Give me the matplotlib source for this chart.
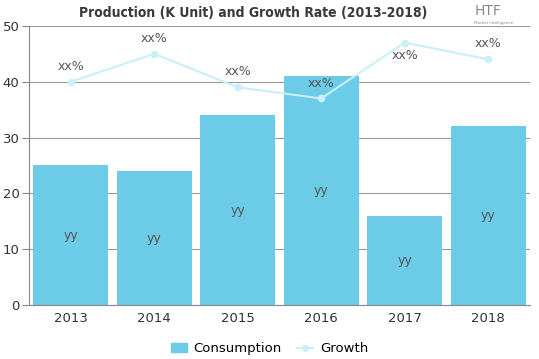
import matplotlib.pyplot as plt
from matplotlib.lines import Line2D
from matplotlib.patches import Patch

years = ["2013", "2014", "2015", "2016", "2017", "2018"]
consumption = [25, 24, 34, 41, 16, 32]
growth = [40, 45, 39, 37, 47, 44]
bar_labels = ["yy"] * 6
line_labels = ["xx%"] * 6
label_above = [True, True, True, True, False, True]

bar_color = "#6ccbe6"
line_color = "#c8f0f6"

fig = plt.figure(figsize=(5.39, 3.59), dpi=100)
ax = fig.add_axes([0.054, 0.150, 0.929, 0.778])

x = list(range(len(years)))
ax.bar(x, consumption, width=0.9, color=bar_color, zorder=2)
ax.plot(x, growth, color=line_color, lw=1.5, marker="o", ms=4.5, zorder=3)

for xi, v, t in zip(x, consumption, bar_labels):
    ax.text(xi, v / 2, t, ha="center", va="center", fontsize=9, color="#555555", zorder=4)
for xi, v, t, up in zip(x, growth, line_labels, label_above):
    if up:
        ax.text(xi, v + 1.6, t, ha="center", va="bottom", fontsize=9, color="#555555", zorder=4)
    else:
        ax.text(xi, v - 1.2, t, ha="center", va="top", fontsize=9, color="#555555", zorder=4)

ax.set_xlim(-0.5, 5.5)
ax.set_ylim(0, 50)
ax.set_yticks(range(0, 51, 10))
ax.set_xticks(x)
ax.set_xticklabels(years)
ax.tick_params(axis="y", length=5, color="#888888", labelsize=9.5, labelcolor="#333333", pad=2)
ax.tick_params(axis="x", length=0, labelsize=9.5, labelcolor="#333333", pad=5)
ax.grid(axis="y", color="#999999", lw=0.8, zorder=0)
for s in ["top", "right"]:
    ax.spines[s].set_visible(False)
for s in ["left", "bottom"]:
    ax.spines[s].set_color("#888888")

fig.text(0.47, 0.965, "Production (K Unit) and Growth Rate (2013-2018)", ha="center", va="center",
         fontsize=10, fontweight="bold", color="#3a3a3a", family=["Liberation Sans Narrow", "DejaVu Sans"],
         fontstretch="condensed")
fig.text(0.905, 0.968, "HTF", ha="center", va="center", fontsize=10, color="#888888")
fig.text(0.915, 0.935, "Market Intelligence", ha="center", va="center", fontsize=3, color="#888888")

handles = [Patch(color=bar_color, label="Consumption"),
           Line2D([0], [0], color=line_color, marker="o", ms=4, lw=1.5, label="Growth")]
fig.legend(handles=handles, loc="center", bbox_to_anchor=(0.5, 0.028), ncol=2, frameon=False,
           fontsize=9.5, handlelength=1.2, columnspacing=1.2, handletextpad=0.5)

fig.savefig("out.png", dpi=100)
